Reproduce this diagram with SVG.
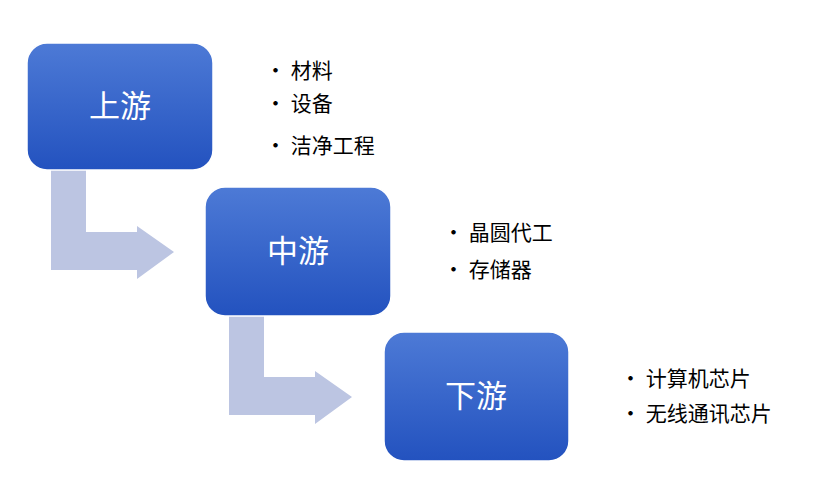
<svg xmlns="http://www.w3.org/2000/svg" width="830" height="486" viewBox="0 0 830 486">
<defs>
<linearGradient id="g" x1="0" y1="0" x2="0" y2="1"><stop offset="0" stop-color="#4d7ad6"/><stop offset="1" stop-color="#2352bf"/></linearGradient>
</defs>
<style>
.box{fill:url(#g);stroke:#ffffff;stroke-width:1.5}
.t{font-family:"Noto Sans CJK SC",sans-serif;font-size:31px;fill:#fff;text-anchor:middle}
.b{font-family:"Noto Sans CJK SC",sans-serif;font-size:21px;fill:#000}
.arr{fill:#bcc5e2}
</style>
<rect width="830" height="486" fill="#fff"/>
<g id="connectors">
<path class="arr" d="M51,170 H86 V232 H137 V226 L174,252 L137,279 V270 H51 Z"/>
<path class="arr" d="M229,316 H264 V377 H315 V371 L352,397 L315,424 V415 H229 Z"/>
</g>
<g id="upstream">
<rect class="box" x="27" y="43" width="186" height="127" rx="20"/>
<text class="t" x="120" y="117">上游</text>
<text class="b" x="265" y="78">• 材料</text>
<text class="b" x="265" y="111">• 设备</text>
<text class="b" x="265" y="153">• 洁净工程</text>
</g>
<g id="midstream">
<rect class="box" x="205" y="187" width="186" height="129" rx="20"/>
<text class="t" x="298" y="262">中游</text>
<text class="b" x="443" y="240">• 晶圆代工</text>
<text class="b" x="443" y="277">• 存储器</text>
</g>
<g id="downstream">
<rect class="box" x="384" y="332" width="185" height="129" rx="20"/>
<text class="t" x="476" y="407">下游</text>
<text class="b" x="620" y="386">• 计算机芯片</text>
<text class="b" x="620" y="421">• 无线通讯芯片</text>
</g>
</svg>
